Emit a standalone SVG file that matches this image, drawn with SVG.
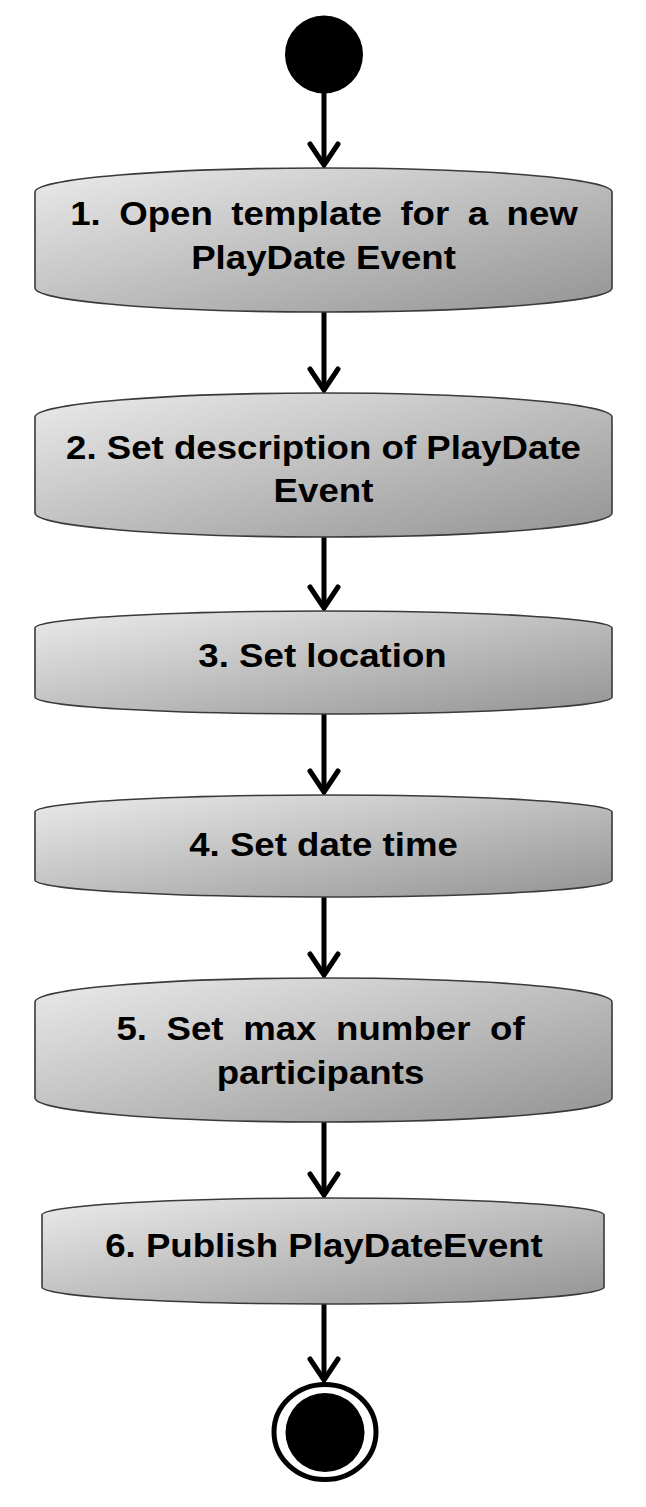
<svg xmlns="http://www.w3.org/2000/svg" width="646" height="1507" viewBox="0 0 646 1507">
  <defs>
    <linearGradient id="nodeFill" x1="0" y1="0" x2="1" y2="1">
      <stop offset="0" stop-color="#ebebeb"/>
      <stop offset="1" stop-color="#939393"/>
    </linearGradient>
    <marker id="arrow" markerUnits="userSpaceOnUse" orient="auto" refX="0" refY="0" markerWidth="40" markerHeight="40" overflow="visible">
      <path d="M -21 -14 L 0 0 L -21 14" fill="none" stroke="#000" stroke-width="5" stroke-linecap="round" stroke-linejoin="miter"/>
    </marker>
  </defs>
  <style>
    .node { fill: url(#nodeFill); stroke: #3a3a3a; stroke-width: 1.6; }
    .label { font-family: "Liberation Sans", Arial, sans-serif; font-weight: bold; font-size: 33px; fill: #000; text-anchor: middle; }
    .conn { stroke: #000; stroke-width: 5; fill: none; marker-end: url(#arrow); }
  </style>
  <rect width="646" height="1507" fill="#fff"/>

  <g id="connectors">
    <line class="conn" x1="324" y1="92" x2="324" y2="165"/>
    <line class="conn" x1="324" y1="312" x2="324" y2="390"/>
    <line class="conn" x1="324" y1="537" x2="324" y2="608"/>
    <line class="conn" x1="324" y1="714" x2="324" y2="792"/>
    <line class="conn" x1="324" y1="897" x2="324" y2="975"/>
    <line class="conn" x1="324" y1="1122" x2="324" y2="1195"/>
    <line class="conn" x1="324" y1="1304" x2="324" y2="1380"/>
  </g>

  <g id="start">
    <circle cx="324" cy="54.5" r="39" fill="#000"/>
  </g>

  <g id="node1">
    <path class="node" d="M 35 192 A 288.5 24 0 0 1 612 192 L 612 288 A 288.5 24 0 0 1 35 288 Z"/>
    <text class="label" transform="translate(324 225) scale(1.11 1)" word-spacing="7.5">1. Open template for a new</text>
    <text class="label" transform="translate(323.5 269) scale(1.11 1)">PlayDate Event</text>
  </g>

  <g id="node2">
    <path class="node" d="M 35 417 A 288.5 24 0 0 1 612 417 L 612 513 A 288.5 24 0 0 1 35 513 Z"/>
    <text class="label" transform="translate(323.5 458.5) scale(1.11 1)">2. Set description of PlayDate</text>
    <text class="label" transform="translate(323.5 502) scale(1.11 1)">Event</text>
  </g>

  <g id="node3">
    <path class="node" d="M 35 628 A 288.5 17 0 0 1 612 628 L 612 697 A 288.5 17 0 0 1 35 697 Z"/>
    <text class="label" transform="translate(322.5 666.5) scale(1.11 1)">3. Set location</text>
  </g>

  <g id="node4">
    <path class="node" d="M 35 812 A 288.5 17 0 0 1 612 812 L 612 880 A 288.5 17 0 0 1 35 880 Z"/>
    <text class="label" transform="translate(323.5 855.5) scale(1.11 1)">4. Set date time</text>
  </g>

  <g id="node5">
    <path class="node" d="M 35 1002 A 288.5 24 0 0 1 612 1002 L 612 1098 A 288.5 24 0 0 1 35 1098 Z"/>
    <text class="label" transform="translate(320.5 1039.5) scale(1.11 1)" word-spacing="8.5">5. Set max number of</text>
    <text class="label" transform="translate(320.5 1083.5) scale(1.11 1)">participants</text>
  </g>

  <g id="node6">
    <path class="node" d="M 42 1215 A 281 17 0 0 1 604 1215 L 604 1287 A 281 17 0 0 1 42 1287 Z"/>
    <text class="label" transform="translate(324 1256.5) scale(1.11 1)">6. Publish PlayDateEvent</text>
  </g>

  <g id="end">
    <ellipse cx="325" cy="1432" rx="51" ry="47.5" fill="#fff" stroke="#000" stroke-width="5"/>
    <circle cx="325" cy="1432.5" r="39.5" fill="#000"/>
  </g>
</svg>
